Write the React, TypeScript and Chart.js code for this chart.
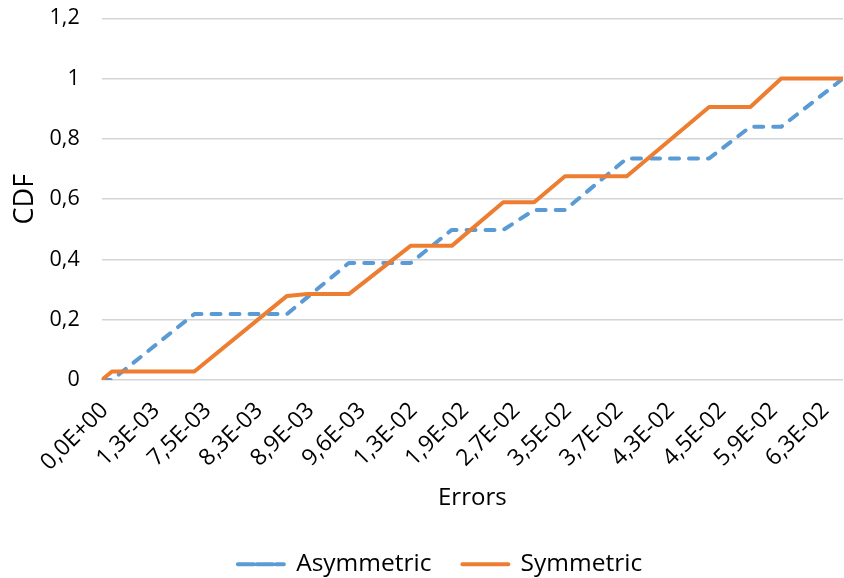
import React, { useEffect, useRef } from "react";
import { Chart, registerables } from "chart.js";

Chart.register(...registerables);

// x positions are category indices (73 sorted error values, labelled every 5th)
const xTickLabels = [
  "0,0E+00", "1,3E-03", "7,5E-03", "8,3E-03", "8,9E-03", "9,6E-03", "1,3E-02",
  "1,9E-02", "2,7E-02", "3,5E-02", "3,7E-02", "4,3E-02", "4,5E-02", "5,9E-02", "6,3E-02",
];
const labelEvery = 5;
const lastIndex = 72;

const asymIdx = [0, 1, 9, 18, 24, 30, 34, 39, 42, 45, 51, 59, 63, 66, 72];
const asymCdf = [0, 0, 0.219, 0.219, 0.388, 0.388, 0.498, 0.498, 0.564, 0.564, 0.735, 0.735, 0.84, 0.84, 1.0];

const symIdx = [0, 1, 9, 18, 20, 24, 30, 34, 39, 42, 45, 51, 59, 63, 66, 72];
const symCdf = [0, 0.028, 0.028, 0.279, 0.285, 0.285, 0.445, 0.445, 0.59, 0.59, 0.676, 0.676, 0.906, 0.906, 1.0, 1.0];

const yMax = 1.2;
const yStep = 0.2;

const FONT = "'Open Sans', 'DejaVu Sans', sans-serif";

const legendShift = {
  id: "legendShift",
  beforeDraw(chart: any) {
    const lg = chart.legend;
    if (lg) {
      lg.left = 18;
      lg.right = chart.width + 18;
    }
  },
};

export default function App() {
  const ref = useRef<HTMLCanvasElement | null>(null);

  useEffect(() => {
    if (!ref.current) return;
    const chart = new Chart(ref.current, {
      type: "line",
      plugins: [legendShift],
      data: {
        datasets: [
          {
            label: "Asymmetric",
            data: asymIdx.map((x, i) => ({ x, y: asymCdf[i] })),
            borderColor: "#5B9BD5",
            backgroundColor: "#5B9BD5",
            borderWidth: 4,
            borderDash: [9, 10],
            borderCapStyle: "round",
            borderJoinStyle: "round",
            pointRadius: 0,
            tension: 0,
            order: 1,
          },
          {
            label: "Symmetric",
            data: symIdx.map((x, i) => ({ x, y: symCdf[i] })),
            borderColor: "#ED7D31",
            backgroundColor: "#ED7D31",
            borderWidth: 4,
            borderCapStyle: "round",
            borderJoinStyle: "round",
            pointRadius: 0,
            tension: 0,
            order: 0,
          },
        ],
      },
      options: {
        animation: false,
        responsive: false,
        maintainAspectRatio: false,
        layout: { padding: { top: 18.3, right: 1, bottom: -8.5, left: 0 } },
        plugins: {
          tooltip: { enabled: false },
          legend: {
            position: "bottom",
            labels: {
              font: { family: FONT, size: 24.5 },
              color: "#000",
              boxWidth: 46,
              boxHeight: 0,
              padding: 31,
              sort: (a: any, b: any) => a.datasetIndex - b.datasetIndex,
            },
          },
        },
        scales: {
          x: {
            type: "linear",
            min: 0,
            max: lastIndex,
            grid: { display: false, drawTicks: false },
            border: { display: false },
            ticks: {
              stepSize: labelEvery,
              includeBounds: false,
              autoSkip: false,
              minRotation: 45,
              maxRotation: 45,
              padding: 17,
              labelOffset: 3,
              color: "#000",
              font: { family: FONT, size: 23 },
              callback: (v: any) => {
                const k = Math.round(Number(v) / labelEvery);
                return Number(v) % labelEvery === 0 && xTickLabels[k] !== undefined ? xTickLabels[k] : "";
              },
            },
            title: {
              display: true,
              text: "Errors",
              color: "#000",
              font: { family: FONT, size: 24 },
              padding: { top: 0, bottom: 8.5 },
            },
            afterFit: (s: any) => {
              s.height = 141;
              s.paddingLeft = 0;
              s.paddingRight = 0;
              s.paddingTop = 0;
              s.paddingBottom = 0;
            },
          },
          y: {
            min: 0,
            max: yMax,
            grid: { color: "#d4d4d4", lineWidth: 1.6, drawTicks: false },
            border: { display: false },
            ticks: {
              stepSize: yStep,
              padding: 22,
              color: "#000",
              font: { family: FONT, size: 21.5 },
              callback: (v: any) => String(Number(Number(v).toFixed(1))).replace(".", ","),
            },
            title: {
              display: true,
              text: "CDF",
              color: "#000",
              font: { family: FONT, size: 27 },
              padding: { top: 9, bottom: 0 },
            },
            afterFit: (s: any) => {
              s.width = 101.7;
              s.paddingLeft = 0;
              s.paddingRight = 0;
              s.paddingTop = 0;
              s.paddingBottom = 0;
            },
          },
        },
      },
    });
    return () => chart.destroy();
  }, []);

  return (
    <div style={{ position: "fixed", left: 0, top: 0, width: 844, height: 578, background: "#fff" }}>
      <canvas ref={ref} width={844} height={578} style={{ display: "block" }} />
    </div>
  );
}
